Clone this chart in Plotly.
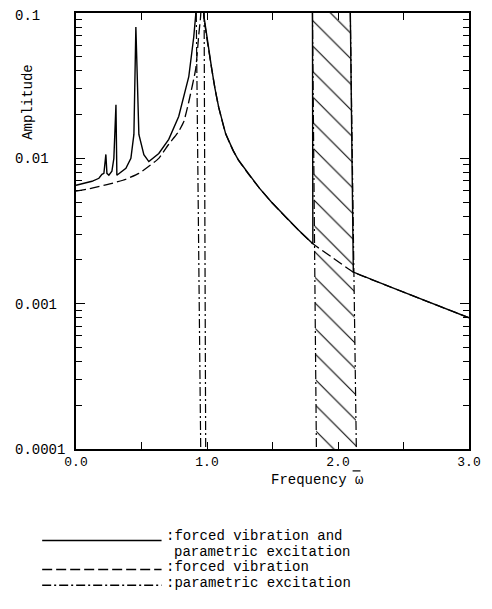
import math
import plotly.graph_objects as go

# ---------------- data ----------------
# solid: forced vibration and parametric excitation
solid_omega = [0.0, 0.122, 0.175, 0.198, 0.213, 0.228, 0.236, 0.251, 0.274, 0.289,
               0.305, 0.312, 0.381, 0.419, 0.442, 0.457, 0.480, 0.518, 0.556,
               0.632, 0.708, 0.784, 0.861, 0.899, 0.914, 0.945,
               0.975, 1.000, 1.036, 1.060, 1.089, 1.142, 1.200, 1.241, 1.318, 1.400,
               1.493, 1.600, 1.698, 1.808, 1.805,
               None,
               2.094, 2.117, 2.384, 2.688, 3.0]
solid_amp = [0.00653, 0.00695, 0.00729, 0.00776, 0.00788, 0.01064, 0.00788, 0.00765, 0.00815, 0.0100,
             0.0234, 0.00765, 0.00855, 0.0100, 0.0146, 0.0802, 0.0146, 0.0106, 0.0095,
             0.0108, 0.0135, 0.0194, 0.0365, 0.0686, 0.097, 1.0,
             0.097, 0.066, 0.0413, 0.0305, 0.0225, 0.0148, 0.0113, 0.0097, 0.00776, 0.00624,
             0.00499, 0.00394, 0.00321, 0.00258, 0.1,
             None,
             0.1, 0.00165, 0.00132, 0.00103, 0.00080]

# dashed: forced vibration
dashed_omega = [0.0, 0.122, 0.251, 0.381, 0.480, 0.556, 0.632, 0.708, 0.784, 0.823,
                0.861, 0.914, 0.937, 0.952, 0.962,
                0.975, 1.000, 1.036, 1.060, 1.089, 1.142, 1.200, 1.241, 1.318, 1.400,
                1.493, 1.600, 1.698, 1.808, 1.950,
                2.117, 2.384, 2.688, 3.0]
dashed_amp = [0.00594, 0.00624, 0.00664, 0.00718, 0.00788, 0.00881, 0.0100, 0.0125, 0.0153, 0.0179,
              0.0245, 0.0413, 0.0707, 0.097, 1.0,
              0.097, 0.066, 0.0413, 0.0305, 0.0225, 0.0148, 0.0113, 0.0097, 0.00776, 0.00624,
              0.00499, 0.00394, 0.00321, 0.00258, 0.00210,
              0.00165, 0.00132, 0.00103, 0.00080]

# dash-dot: parametric excitation (instability boundaries)
param_amp = [0.1, 0.0001]
param1_left = [0.918, 0.952]
param1_right = [0.978, 0.990]
param2_left = [1.805, 1.835]
param2_right = [2.094, 2.140]

# hatched instability region
hatch_omega = [1.805, 2.094, 2.140, 1.835, 1.805]
hatch_amp = [0.1, 0.1, 0.0001, 0.0001, 0.1]

x_ticks = [0.0, 0.5, 1.0, 1.5, 2.0, 2.5, 3.0]
x_ticktext = ["0.0", "", "1.0", "", "2.0", "", "3.0"]
y_ticks = [0.1, 0.01, 0.001, 0.0001]
y_ticktext = ["0.1", "0.01", "0.001", "0.0001"]
y_minor = [k * 10.0 ** e for e in (-4, -3, -2) for k in range(2, 10)]

legend_labels = [":forced vibration and", "parametric excitation",
                 ":forced vibration", ":parametric excitation"]

MONO = "Liberation Mono, Courier New, monospace"
DASH = "10px,4px"
DASHDOT = "9px,3px,2px,3px"

fig = go.Figure()

fig.add_trace(go.Scatter(
    x=hatch_omega, y=hatch_amp, mode="lines", fill="toself",
    line=dict(width=0, color="rgba(0,0,0,0)"),
    fillcolor="rgba(0,0,0,0)",
    fillpattern=dict(shape="\\", size=18, solidity=0.06, fgcolor="black", fgopacity=1,
                     bgcolor="rgba(0,0,0,0)", fillmode="overlay"),
    hoverinfo="skip", showlegend=False))

for xs in (param1_left, param1_right, param2_left, param2_right):
    fig.add_trace(go.Scatter(x=xs, y=param_amp, mode="lines",
                             line=dict(color="black", width=1.2, dash=DASHDOT),
                             showlegend=False))

fig.add_trace(go.Scatter(x=dashed_omega, y=dashed_amp, mode="lines",
                         line=dict(color="black", width=1.3, dash=DASH, shape="spline", smoothing=0.4),
                         showlegend=False))
fig.add_trace(go.Scatter(x=solid_omega, y=solid_amp, mode="lines",
                         line=dict(color="black", width=1.4),
                         connectgaps=False, showlegend=False))

L, R, T, B = 76, 21, 11, 160
W, H = 492, 609
pw, ph = W - L - R, H - T - B


def px(X):
    return (X - L) / pw


def py(Y):
    return 1 - (Y - T) / ph


fig.update_layout(
    width=W, height=H,
    margin=dict(l=L, r=R, t=T, b=B),
    paper_bgcolor="white", plot_bgcolor="white",
    font=dict(family=MONO, size=14, color="black"),
    showlegend=False,
    xaxis=dict(range=[0, 3], tickmode="array", tickvals=x_ticks, ticktext=x_ticktext,
               ticks="inside", ticklen=7, tickwidth=1.2, tickcolor="black",
               showline=True, linecolor="black", linewidth=1.5, mirror="ticks",
               showgrid=False, zeroline=False, tickfont=dict(family=MONO, size=13)),
    yaxis=dict(type="log", range=[-4, -1], tickmode="array", tickvals=y_ticks,
               ticktext=y_ticktext, showticklabels=False,
               ticks="inside", ticklen=9, tickwidth=1.2, tickcolor="black",
               minor=dict(ticks="inside", ticklen=6, tickwidth=1, tickcolor="black",
                          tickmode="array", tickvals=y_minor, showgrid=False),
               showline=True, linecolor="black", linewidth=1.5, mirror="ticks",
               showgrid=False, zeroline=False),
)

ann = []
for v, t in zip(y_ticks, y_ticktext):
    ann.append(dict(x=px(13), xref="paper", y=math.log10(v), yref="y", text=t,
                    showarrow=False, xanchor="left", yanchor="middle",
                    yshift=-3 if v == 0.1 else -1,
                    font=dict(family=MONO, size=14)))
ann.append(dict(x=px(27), y=py(100), xref="paper", yref="paper", text="Amplitude",
                textangle=-90, showarrow=False, xanchor="center", yanchor="middle",
                font=dict(family=MONO, size=14)))
ann.append(dict(x=px(270), y=py(480), xref="paper", yref="paper", text="Frequency \u03c9",
                showarrow=False, xanchor="left", yanchor="middle",
                font=dict(family=MONO, size=14)))

leg_font = dict(family=MONO, size=14)
ann.append(dict(x=px(164), y=py(536), xref="paper", yref="paper", text=legend_labels[0],
                showarrow=False, xanchor="left", yanchor="middle", font=leg_font))
ann.append(dict(x=px(172), y=py(552), xref="paper", yref="paper", text=legend_labels[1],
                showarrow=False, xanchor="left", yanchor="middle", font=leg_font))
ann.append(dict(x=px(164), y=py(568), xref="paper", yref="paper", text=legend_labels[2],
                showarrow=False, xanchor="left", yanchor="middle", font=leg_font))
ann.append(dict(x=px(164), y=py(584), xref="paper", yref="paper", text=legend_labels[3],
                showarrow=False, xanchor="left", yanchor="middle", font=leg_font))
fig.update_layout(annotations=ann)

shapes = [
    # overline above omega in the axis title
    dict(type="line", xref="paper", yref="paper", x0=px(354), x1=px(362), y0=py(471), y1=py(471),
         line=dict(color="black", width=1.2)),
    dict(type="line", xref="paper", yref="paper", x0=px(42), x1=px(162), y0=py(541), y1=py(541),
         line=dict(color="black", width=1.5)),
    dict(type="line", xref="paper", yref="paper", x0=px(42), x1=px(162), y0=py(570), y1=py(570),
         line=dict(color="black", width=1.5, dash=DASH)),
    dict(type="line", xref="paper", yref="paper", x0=px(42), x1=px(162), y0=py(586), y1=py(586),
         line=dict(color="black", width=1.5, dash=DASHDOT)),
]
fig.update_layout(shapes=shapes)

fig.write_html("out.html")
